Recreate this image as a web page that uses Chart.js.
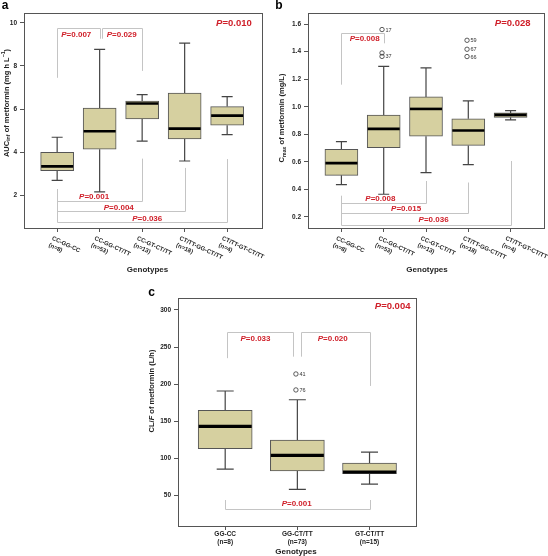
<!DOCTYPE html>
<html>
<head>
<meta charset="utf-8">
<script src="https://cdn.jsdelivr.net/npm/chart.js@4.4.1/dist/chart.umd.min.js"></script>
<style>
  body { margin: 0; background: #fff; width: 548px; height: 556px; position: relative; overflow: hidden; }
  canvas { position: absolute; }
  #ca { left: 0; top: 0; }
  #cb { left: 274px; top: 0; }
  #cc { left: 136px; top: 280px; }
</style>
</head>
<body>
<canvas id="ca" width="274" height="280"></canvas>
<canvas id="cb" width="274" height="280"></canvas>
<canvas id="cc" width="284" height="276"></canvas>
<script>
// panel a - AUC
const catsA = ["CC-GG-CC", "CC-GG-CT/TT", "CC-GT-CT/TT", "CT/TT-GG-CT/TT", "CT/TT-GT-CT/TT"];
const nA = ["(n=8)", "(n=53)", "(n=13)", "(n=18)", "(n=4)"];
const minA = [2.7, 2.17, 4.52, 3.6, 4.82];
const q1A = [3.15, 4.15, 5.55, 4.62, 5.26];
const medA = [3.35, 4.98, 6.26, 5.1, 5.7];
const q3A = [4.0, 6.05, 6.37, 6.74, 6.12];
const maxA = [4.7, 8.77, 6.67, 9.06, 6.58];
const ticksA = [2, 4, 6, 8, 10];
// [x1, x2, line y, left end y, right end y]
const bracketsA = [[1, 2, 9.74, 7.45, 9.26], [2.06, 3, 9.74, 9.26, 7.77],
  [1, 3, 1.74, 2.3, 3.71], [1, 4, 1.28, 2.3, 3.28], [1, 5, 0.77, 2.3, 3.69]];
const pLabelsA = [[1.45, 9.43, "0.007"], [2.52, 9.43, "0.029"], [1.87, 1.94, "0.001"],
  [2.45, 1.43, "0.004"], [3.12, 0.94, "0.036"]];
const pOverallA = [5.16, 9.99, "0.010"];

// panel b - Cmax
const catsB = catsA;
const nB = nA;
const minB = [0.435, 0.365, 0.522, 0.58, 0.905];
const q1B = [0.502, 0.703, 0.786, 0.719, 0.923];
const medB = [0.591, 0.839, 0.984, 0.827, 0.941];
const q3B = [0.69, 0.94, 1.071, 0.912, 0.955];
const maxB = [0.746, 1.292, 1.282, 1.042, 0.972];
const ticksB = [0.2, 0.4, 0.6, 0.8, 1.0, 1.2, 1.4, 1.6];
const bracketsB = [[1, 2, 1.535, 1.16, 1.46],
  [1, 3, 0.305, 0.353, 0.461], [1, 4, 0.226, 0.353, 0.45], [1, 5, 0.144, 0.353, 0.606]];
const pLabelsB = [[1.55, 1.49, "0.008"], [1.92, 0.33, "0.008"], [2.53, 0.26, "0.015"], [3.18, 0.18, "0.036"]];
const pOverallB = [5.05, 1.605, "0.028"];
const outliersB = [[1.96, 1.56, "17"], [1.96, 1.39, ""], [1.96, 1.365, "37"],
  [3.97, 1.482, "59"], [3.97, 1.417, "67"], [3.97, 1.364, "66"]];

// panel c - CL/F
const catsC = ["GG-CC", "GG-CT/TT", "GT-CT/TT"];
const nC = ["(n=8)", "(n=73)", "(n=15)"];
const minC = [85.7, 58.4, 65.5];
const q1C = [113, 83, 79.4];
const medC = [143.2, 104, 81.7];
const q3C = [164.8, 124.8, 93.8];
const maxC = [190.8, 179, 108.6];
const ticksC = [50, 100, 150, 200, 250, 300];
const bracketsC = [[1.03, 1.94, 270, 235, 237], [2.05, 3.01, 270, 237, 197.6], [1, 3, 31.8, 44, 44]];
const pLabelsC = [[1.42, 260.5, "0.033"], [2.49, 260.5, "0.020"], [1.99, 39, "0.001"]];
const pOverallC = [3.32, 305, "0.004"];
const outliersC = [[1.98, 213.7, "41"], [1.98, 192.2, "76"]];

const FONT = 'Arial, "Liberation Sans", sans-serif';
const BOX_FILL = "#d6d0a0";
const RED = "#d0202a";

function drawP(ctx, x, y, val, size) {
  ctx.font = "italic bold " + size + "px " + FONT;
  const w1 = ctx.measureText("P").width;
  ctx.font = "bold " + size + "px " + FONT;
  const w2 = ctx.measureText("=" + val).width;
  let sx = x - (w1 + w2) / 2;
  ctx.fillStyle = RED;
  ctx.textAlign = "left";
  ctx.textBaseline = "middle";
  ctx.font = "italic bold " + size + "px " + FONT;
  ctx.fillText("P", sx, y);
  ctx.font = "bold " + size + "px " + FONT;
  ctx.fillText("=" + val, sx + w1, y);
}

// draws rotated y title made of [text, style] parts
function drawYTitle(ctx, cx, cy, parts) {
  const size = 7.5;
  ctx.save();
  ctx.translate(cx, cy);
  ctx.rotate(-Math.PI / 2);
  let total = 0;
  parts.forEach(pt => {
    const s = pt[1] == "sub" || pt[1] == "sup" ? size * 0.7 : size;
    ctx.font = (pt[1] == "it" ? "italic " : "") + "bold " + s + "px " + FONT;
    total += ctx.measureText(pt[0]).width;
  });
  let x = -total / 2;
  ctx.fillStyle = "#222";
  ctx.textBaseline = "middle";
  ctx.textAlign = "left";
  parts.forEach(pt => {
    const s = pt[1] == "sub" || pt[1] == "sup" ? size * 0.7 : size;
    ctx.font = (pt[1] == "it" ? "italic " : "") + "bold " + s + "px " + FONT;
    let dy = 0;
    if (pt[1] == "sub") dy = 2.5;
    if (pt[1] == "sup") dy = -2.5;
    ctx.fillText(pt[0], x, dy);
    x += ctx.measureText(pt[0]).width;
  });
  ctx.restore();
}

function boxPlugin(p) {
  return {
    id: "boxextras",
    beforeDatasetsDraw(chart) {
      const ctx = chart.ctx, xs = chart.scales.x, ys = chart.scales.y;
      const X = v => xs.getPixelForValue(v), Y = v => ys.getPixelForValue(v);
      ctx.save();
      ctx.strokeStyle = "#c4c4c4";
      ctx.lineWidth = 1;
      p.brackets.forEach(b => {
        ctx.beginPath();
        ctx.moveTo(Math.round(X(b[0])) + 0.5, Y(b[3]));
        ctx.lineTo(Math.round(X(b[0])) + 0.5, Math.round(Y(b[2])) + 0.5);
        ctx.lineTo(Math.round(X(b[1])) + 0.5, Math.round(Y(b[2])) + 0.5);
        ctx.lineTo(Math.round(X(b[1])) + 0.5, Y(b[4]));
        ctx.stroke();
      });
      // whiskers
      ctx.strokeStyle = "#444";
      ctx.lineWidth = 1.2;
      p.q1.forEach((q, i) => {
        const x = X(i + 1);
        ctx.beginPath();
        ctx.moveTo(x, Y(p.q3[i])); ctx.lineTo(x, Y(p.max[i]));
        ctx.moveTo(x, Y(q)); ctx.lineTo(x, Y(p.min[i]));
        ctx.moveTo(x - p.capW / 2, Y(p.max[i])); ctx.lineTo(x + p.capW / 2, Y(p.max[i]));
        ctx.moveTo(x - p.capW / 2, Y(p.min[i])); ctx.lineTo(x + p.capW / 2, Y(p.min[i]));
        ctx.stroke();
      });
      ctx.restore();
    },
    afterDatasetsDraw(chart) {
      const ctx = chart.ctx, xs = chart.scales.x, ys = chart.scales.y, area = chart.chartArea;
      const X = v => xs.getPixelForValue(v), Y = v => ys.getPixelForValue(v);
      ctx.save();
      // medians
      ctx.strokeStyle = "#000";
      ctx.lineWidth = p.medW;
      p.med.forEach((m, i) => {
        const x = X(i + 1);
        ctx.beginPath();
        ctx.moveTo(x - p.barW / 2 + 0.5, Y(m));
        ctx.lineTo(x + p.barW / 2 - 0.5, Y(m));
        ctx.stroke();
      });
      // outliers
      ctx.strokeStyle = "#333";
      ctx.lineWidth = 0.8;
      ctx.fillStyle = "#333";
      ctx.font = "5.5px " + FONT;
      ctx.textBaseline = "middle";
      ctx.textAlign = "left";
      (p.outliers || []).forEach(o => {
        ctx.beginPath();
        ctx.arc(X(o[0]), Y(o[1]), 2.2, 0, Math.PI * 2);
        ctx.stroke();
        if (o[2]) ctx.fillText(o[2], X(o[0]) + 3.5, Y(o[1]) + 0.5);
      });
      // frame
      ctx.strokeStyle = "#555";
      ctx.lineWidth = 1;
      ctx.strokeRect(Math.round(area.left) + 0.5, Math.round(area.top) + 0.5,
        Math.round(area.right - area.left), Math.round(area.bottom - area.top));
      // p values
      p.pLabels.forEach(l => drawP(ctx, X(l[0]), Y(l[1]), l[2], 8));
      drawP(ctx, X(p.pOverall[0]), Y(p.pOverall[1]), p.pOverall[2], 9.5);
      // category labels
      ctx.fillStyle = "#222";
      ctx.textBaseline = "middle";
      p.cats.forEach((c, i) => {
        const x = X(i + 1);
        if (p.rotate) {
          ctx.font = "bold 6px " + FONT;
          ctx.save();
          ctx.translate(x - 5, area.bottom + 10);
          ctx.rotate(25 * Math.PI / 180);
          ctx.textAlign = "left";
          ctx.fillText(c, 0, 0);
          ctx.fillText(p.ns[i], 0, 7.5);
          ctx.restore();
        } else {
          ctx.font = "bold 6.5px " + FONT;
          ctx.textAlign = "center";
          ctx.fillText(c, x, area.bottom + 8.5);
          ctx.fillText(p.ns[i], x, area.bottom + 16.5);
        }
      });
      ctx.font = "bold 8px " + FONT;
      ctx.textAlign = "center";
      ctx.fillText("Genotypes", p.gx, p.gy);
      // panel letter
      ctx.font = "bold 12px " + FONT;
      ctx.fillStyle = "#000";
      ctx.fillText(p.letter, p.lx, p.ly);
      drawYTitle(ctx, p.tx, p.ty, p.title);
      ctx.restore();
    }
  };
}

function makeChart(id, p) {
  return new Chart(document.getElementById(id), {
    type: "bar",
    data: {
      datasets: [{
        data: p.q1.map((q, i) => ({ x: i + 1, y: [q, p.q3[i]] })),
        backgroundColor: BOX_FILL,
        borderColor: "#555",
        borderWidth: 1,
        borderSkipped: false,
        barThickness: p.barW
      }]
    },
    options: {
      responsive: false,
      animation: false,
      devicePixelRatio: 1,
      layout: { padding: p.pad },
      plugins: { legend: { display: false }, tooltip: { enabled: false } },
      scales: {
        x: {
          type: "linear", min: p.xMin, max: p.xMax, offset: false,
          afterBuildTicks: s => { s.ticks = p.cats.map((c, i) => ({ value: i + 1 })); },
          afterFit: s => { s.height = p.xH; },
          ticks: { display: false },
          grid: { drawOnChartArea: false, tickLength: 4, color: "#555", offset: false },
          border: { color: "#555" }
        },
        y: {
          min: p.yMin, max: p.yMax,
          afterBuildTicks: s => { s.ticks = p.ticks.map(v => ({ value: v })); },
          afterFit: s => { s.width = p.yW; },
          ticks: {
            font: { size: 6.5, weight: "bold", family: FONT }, color: "#222", padding: 3,
            callback: v => p.fmt(v)
          },
          grid: { drawOnChartArea: false, tickLength: 4, color: "#555" },
          border: { color: "#555" }
        }
      }
    },
    plugins: [boxPlugin(p)]
  });
}

makeChart("ca", {
  cats: catsA, ns: nA, min: minA, q1: q1A, med: medA, q3: q3A, max: maxA,
  ticks: ticksA, brackets: bracketsA, pLabels: pLabelsA, pOverall: pOverallA,
  xMin: 0.22, xMax: 5.82, yMin: 0.5, yMax: 10.45, fmt: v => String(v),
  pad: { left: 0, top: 13, right: 12, bottom: 0 }, yW: 24, xH: 52,
  barW: 33, capW: 11, medW: 2.6, rotate: true,
  gx: 147.5, gy: 270, letter: "a", lx: 5, ly: 6, tx: 6.5, ty: 103,
  title: [["AUC", ""], ["inf", "sub"], [" of metformin (mg h L", ""], ["\u22121", "sup"], [")", ""]]
});

makeChart("cb", {
  cats: catsB, ns: nB, min: minB, q1: q1B, med: medB, q3: q3B, max: maxB,
  ticks: ticksB, brackets: bracketsB, pLabels: pLabelsB, pOverall: pOverallB, outliers: outliersB,
  xMin: 0.21, xMax: 5.79, yMin: 0.12, yMax: 1.68, fmt: v => v.toFixed(1),
  pad: { left: 0, top: 13, right: 4, bottom: 0 }, yW: 34, xH: 52,
  barW: 33, capW: 11, medW: 2.6, rotate: true,
  gx: 153, gy: 270, letter: "b", lx: 5, ly: 6, tx: 8, ty: 118,
  title: [["C", ""], ["max", "sub"], [" of metformin (mg/L)", ""]]
});

makeChart("cc", {
  cats: catsC, ns: nC, min: minC, q1: q1C, med: medC, q3: q3C, max: maxC,
  ticks: ticksC, brackets: bracketsC, pLabels: pLabelsC, pOverall: pOverallC, outliers: outliersC,
  xMin: 0.346, xMax: 3.644, yMin: 9, yMax: 316, fmt: v => String(v),
  pad: { left: 0, top: 18, right: 4, bottom: 0 }, yW: 42, xH: 30,
  barW: 54, capW: 17, medW: 3.2, rotate: false,
  gx: 160, gy: 271.5, letter: "c", lx: 15.5, ly: 13, tx: 16, ty: 111,
  title: [["CL/", ""], ["F", "it"], [" of metformin (L/h)", ""]]
});
</script>
</body>
</html>
